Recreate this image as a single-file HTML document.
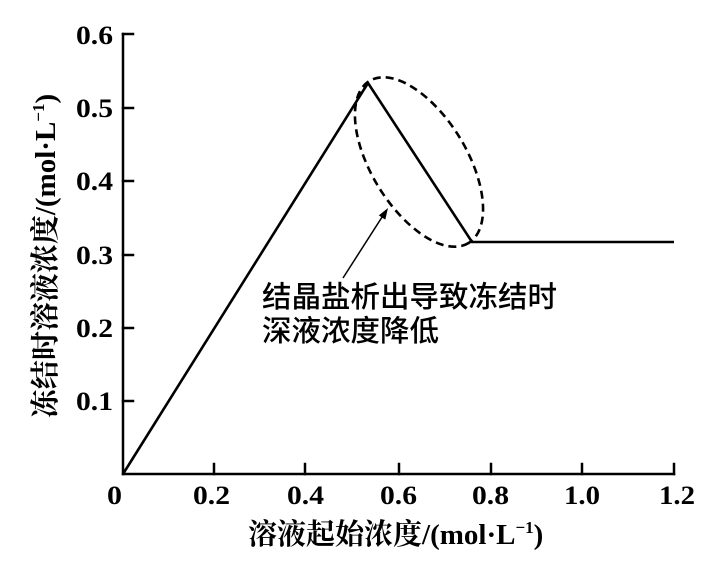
<!DOCTYPE html>
<html><head><meta charset="utf-8"><style>
html,body{margin:0;padding:0;background:#fff;}
svg{display:block;}
.tk{font-family:"Liberation Serif",serif;font-weight:bold;font-size:26.5px;fill:#000;}
.ax{font-family:"Liberation Serif","Noto Serif CJK SC",serif;font-size:29px;fill:#000;}
.cn{font-family:"Noto Serif CJK SC","Liberation Serif",serif;font-weight:bold;}
.lt{font-family:"Liberation Serif",serif;font-weight:bold;}
.an{font-family:"Liberation Sans","Noto Sans CJK SC",sans-serif;font-size:29.5px;font-weight:500;fill:#000;}
</style></head><body>
<svg width="728" height="561" viewBox="0 0 728 561" xmlns="http://www.w3.org/2000/svg">
<rect width="728" height="561" fill="#fff"/>
<!-- axes -->
<g stroke="#000" stroke-width="2.5" fill="none" stroke-linecap="square">
<line x1="123" y1="34" x2="123" y2="474"/>
<line x1="123" y1="474" x2="674" y2="474"/>
<line x1="123" y1="34" x2="133" y2="34"/>
<line x1="123" y1="108" x2="133" y2="108"/>
<line x1="123" y1="181" x2="133" y2="181"/>
<line x1="123" y1="255" x2="133" y2="255"/>
<line x1="123" y1="328" x2="133" y2="328"/>
<line x1="123" y1="401" x2="133" y2="401"/>
<line x1="214" y1="474" x2="214" y2="464"/>
<line x1="305" y1="474" x2="305" y2="464"/>
<line x1="399" y1="474" x2="399" y2="464"/>
<line x1="491" y1="474" x2="491" y2="464"/>
<line x1="582" y1="474" x2="582" y2="464"/>
<line x1="674" y1="474" x2="674" y2="464"/>
</g>
<!-- y tick labels -->
<g class="tk" text-anchor="end">
<text x="113" y="44" textLength="37" lengthAdjust="spacingAndGlyphs">0.6</text>
<text x="113" y="117" textLength="37" lengthAdjust="spacingAndGlyphs">0.5</text>
<text x="113" y="190" textLength="37" lengthAdjust="spacingAndGlyphs">0.4</text>
<text x="113" y="264" textLength="37" lengthAdjust="spacingAndGlyphs">0.3</text>
<text x="113" y="337" textLength="37" lengthAdjust="spacingAndGlyphs">0.2</text>
<text x="113" y="410" textLength="37" lengthAdjust="spacingAndGlyphs">0.1</text>
</g>
<!-- x tick labels -->
<g class="tk">
<text x="107" y="504" textLength="15" lengthAdjust="spacingAndGlyphs">0</text>
<text x="193" y="504" textLength="37" lengthAdjust="spacingAndGlyphs">0.2</text>
<text x="287" y="504" textLength="37" lengthAdjust="spacingAndGlyphs">0.4</text>
<text x="380" y="504" textLength="37" lengthAdjust="spacingAndGlyphs">0.6</text>
<text x="472" y="504" textLength="37" lengthAdjust="spacingAndGlyphs">0.8</text>
<text x="564" y="504" textLength="36" lengthAdjust="spacingAndGlyphs">1.0</text>
<text x="659" y="504" textLength="36" lengthAdjust="spacingAndGlyphs">1.2</text>
</g>
<!-- axis titles -->
<text class="ax" x="248" y="544"><tspan class="cn">溶液起始浓度</tspan><tspan class="lt">/(mol·L</tspan><tspan class="lt" font-size="17" dy="-11">−1</tspan><tspan class="lt" dy="11">)</tspan></text>
<text class="ax" transform="translate(55,256) rotate(-90)" text-anchor="middle" x="0" y="0"><tspan class="cn">冻结时溶液浓度</tspan><tspan class="lt">/(mol·L</tspan><tspan class="lt" font-size="17" dy="-11">−1</tspan><tspan class="lt" dy="11">)</tspan></text>
<!-- series -->
<polyline points="123,474 368,83 472,242 674,242" fill="none" stroke="#000" stroke-width="2.6" stroke-linejoin="miter"/>
<!-- dashed ellipse -->
<ellipse cx="0" cy="0" rx="95" ry="47.5" transform="translate(419,162) rotate(58.5)" fill="none" stroke="#000" stroke-width="2.6" stroke-dasharray="8 5"/>
<!-- arrow -->
<line x1="343" y1="278" x2="384" y2="214" stroke="#000" stroke-width="1.5"/>
<polygon points="388,208 385.3,219.6 378.8,215.4" fill="#000"/>
<!-- annotation -->
<text class="an" x="262" y="307">结晶盐析出导致冻结时</text>
<text class="an" x="262" y="341">深液浓度降低</text>
</svg>
</body></html>
